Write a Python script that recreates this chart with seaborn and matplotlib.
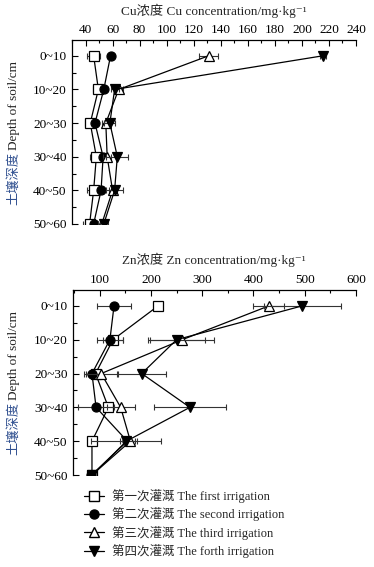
import matplotlib
matplotlib.use("Agg")
import matplotlib.pyplot as plt
from matplotlib.lines import Line2D
from matplotlib.ticker import MultipleLocator, AutoMinorLocator
import pandas as pd
import seaborn as sns

# depth categories (y axis)
depths = ["0~10", "10~20", "20~30", "30~40", "40~50", "50~60"]
series_labels = ["第一次灌溉 The first irrigation", "第二次灌溉 The second irrigation",
                 "第三次灌溉 The third irrigation", "第四次灌溉 The forth irrigation"]

# Cu concentration (mg/kg), one list per irrigation
cu_first = [46, 49.5, 43.5, 48, 46, 43]
cu_second = [58.5, 53.5, 47, 53, 51.5, 46]
cu_third = [131, 64.5, 55, 56, 60, 52]
cu_fourth = [215.5, 61.5, 58, 63.5, 61.5, 53.5]
cu_first_err = [5, 4, 4, 5, 5, 5]
cu_second_err = [1, 1, 1, 1, 1, 1]
cu_third_err = [7, 3, 3, 3, 3, 3]
cu_fourth_err = [2, 3, 4, 8, 6, 3]

# Zn concentration (mg/kg)
zn_first = [214, 126, 92, 117, 85, 85]
zn_second = [128, 120, 85, 93, 154, 84]
zn_third = [430, 261, 103, 141, 160, 85]
zn_fourth = [495, 250, 182, 276, 152, 86]
zn_first_err = [4, 20, 10, 8, 5, 4]
zn_second_err = [33, 25, 16, 35, 15, 3]
zn_third_err = [30, 62, 30, 27, 12, 3]
zn_fourth_err = [75, 55, 47, 70, 68, 3]

sns.set_style("white")
plt.rcParams['font.family'] = ['Liberation Serif', 'Noto Sans CJK SC', 'DejaVu Serif']

# marker style for each irrigation: (marker, facecolor)
styles = [("s", "white"), ("o", "black"), ("^", "white"), ("v", "black")]
blue = "#2f4f8f"


def draw_panel(ax, values, errors, xlim, major, minor):
    for i, (vals, errs) in enumerate(zip(values, errors)):
        df = pd.DataFrame({"conc": vals, "depth": range(len(depths))})
        mk, fc = styles[i]
        ax.errorbar(df["conc"], df["depth"], xerr=errs, fmt="none", ecolor="#333333",
                    elinewidth=0.8, capsize=2, capthick=0.8, zorder=2 + i)
        sns.lineplot(data=df, x="conc", y="depth", orient="y", sort=False, ax=ax,
                     color="black", lw=0.9, marker=mk, markersize=6.5,
                     markerfacecolor=fc, markeredgecolor="black", markeredgewidth=0.9,
                     zorder=3 + i)
    ax.set_xlim(*xlim)
    ax.set_ylim(5, -0.47)
    ax.xaxis.tick_top()
    ax.xaxis.set_major_locator(MultipleLocator(major))
    ax.xaxis.set_minor_locator(MultipleLocator(minor))
    ax.set_yticks(range(len(depths)))
    ax.set_yticklabels(depths)
    ax.yaxis.set_minor_locator(AutoMinorLocator(2))
    ax.tick_params(which="both", direction="in", labelsize=9.5, colors="black")
    ax.tick_params(axis="x", which="major", length=4, width=0.8, pad=3, top=True, bottom=False)
    ax.tick_params(axis="x", which="minor", length=2, width=0.8, top=True, bottom=False)
    ax.tick_params(axis="y", which="major", length=4, width=0.8, pad=4, left=True)
    ax.tick_params(axis="y", which="minor", length=3, width=0.8, left=True)
    for s in ["right", "bottom"]:
        ax.spines[s].set_visible(False)
    for s in ["top", "left"]:
        ax.spines[s].set_color("black")
        ax.spines[s].set_linewidth(0.9)
    ax.set_xlabel("")
    ax.set_ylabel("")
    ax.grid(False)


fig = plt.figure(figsize=(3.74, 5.67), dpi=100)
W, H = 374, 567

ax1 = fig.add_axes([72 / W, 1 - 224 / H, (356 - 72) / W, (224 - 40) / H])
draw_panel(ax1, [cu_first, cu_second, cu_third, cu_fourth],
           [cu_first_err, cu_second_err, cu_third_err, cu_fourth_err],
           (30, 240), 20, 10)

ax2 = fig.add_axes([73 / W, 1 - 475 / H, (356 - 73) / W, (475 - 290) / H])
draw_panel(ax2, [zn_first, zn_second, zn_third, zn_fourth],
           [zn_first_err, zn_second_err, zn_third_err, zn_fourth_err],
           (48, 600), 100, 50)

# titles
fig.text(214 / W, 1 - 11 / H, "Cu浓度 Cu concentration/mg·kg⁻¹",
         ha="center", va="center", fontsize=9.5)
fig.text(214 / W, 1 - 260 / H, "Zn浓度 Zn concentration/mg·kg⁻¹",
         ha="center", va="center", fontsize=9.5)

# y labels: Chinese part bluish, English part dark
for zh_bottom, en_bottom in [(205, 150), (455, 400)]:
    fig.text(14 / W, 1 - zh_bottom / H, "土壤深度", rotation=90, ha="center", va="bottom",
             fontsize=9.5, color=blue)
    fig.text(14 / W, 1 - en_bottom / H, "Depth of soil/cm", rotation=90, ha="center",
             va="bottom", fontsize=9.5, color="#222222")

# legend
handles = [Line2D([0], [0], color="black", lw=0.9, marker=m, markersize=6.5,
                  markerfacecolor=fc, markeredgecolor="black")
           for m, fc in styles]
fig.legend(handles, series_labels, loc="upper left", bbox_to_anchor=(84 / W, 1 - 489 / H),
           frameon=False, fontsize=9, handlelength=1.6, handletextpad=0.6,
           labelspacing=0.35, borderaxespad=0, borderpad=0)

fig.savefig("out.png", dpi=100)
